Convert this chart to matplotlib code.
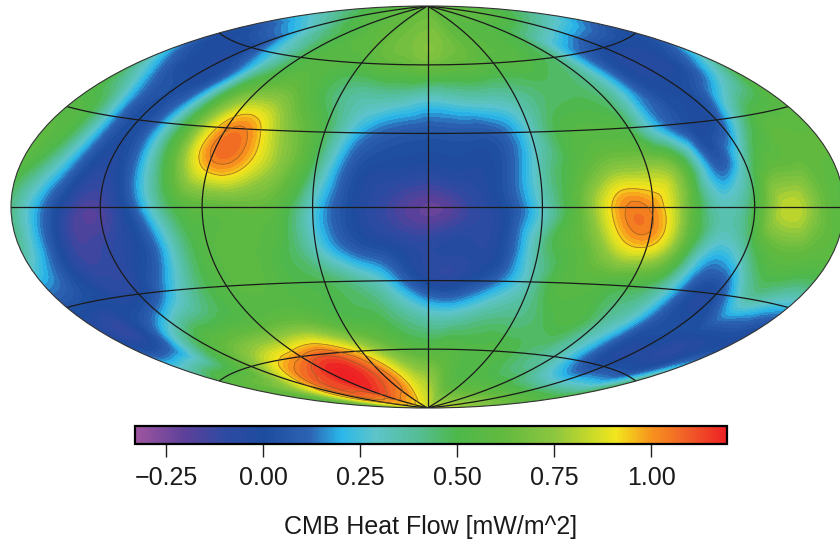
import numpy as np
import matplotlib
matplotlib.use("Agg")
import matplotlib.pyplot as plt
import matplotlib.tri as mtri
from matplotlib.colors import LinearSegmentedColormap, Normalize
from matplotlib.cm import ScalarMappable

plt.rcParams['font.family'] = ['Liberation Sans', 'DejaVu Sans']

lons_deg = list(range(-180, 181, 15))
lats_deg = [-90, -75, -60, -45, -30, -15, 0, 15, 30, 45, 60, 75, 90]

pole_north = 0.62
pole_south = 0.85
row_p75 = [.33,.33,.36,.40,.45,.50,.52,.56,.60,.62,.65,.68,.70,.68,.62,.58,.55,.55,.52,.50,.48,.45,.42,.40,.38]
row_p60 = [.02,-.02,.0,.02,.18,.33,.48,.55,.55,.55,.60,.62,.66,.62,.60,.55,.55,.50,.42,.20,.07,.0,.0,.0,.02]
row_p45 = [.42,.22,.05,.0,.08,.45,.66,.68,.55,.42,.36,.35,.30,.33,.35,.38,.45,.47,.42,.20,.0,-.02,.03,.20,.42]
row_p30 = [.55,.50,.20,.0,.22,.66,1.00,.95,.70,.48,.20,.08,.05,.06,.08,.30,.52,.55,.48,.18,.0,.05,.42,.55,.58]
row_p15 = [.58,.42,.12,-.05,.20,.63,.97,.93,.72,.42,.05,-.03,-.05,-.03,.03,.33,.55,.72,.75,.60,.10,.36,.60,.62,.60]
row_000 = [.42,.17,-.10,-.16,.08,.45,.60,.62,.58,.28,.0,-.13,-.22,-.13,.0,.30,.62,.97,1.00,.66,.33,.50,.83,.70,.55]
row_m15 = [.35,.10,-.13,-.10,.0,.32,.55,.58,.52,.30,.06,-.03,-.08,-.05,.0,.38,.58,.82,.93,.62,.25,.38,.60,.60,.58]
row_m30 = [.03,.0,-.04,-.03,.18,.42,.55,.58,.52,.48,.38,.20,-.03,-.03,.12,.35,.55,.55,.50,.38,.05,.02,.32,.30,.22]
row_m45 = [.03,-.03,.17,.42,.52,.55,.58,.62,.60,.52,.50,.42,.33,.33,.40,.42,.48,.52,.40,.25,.03,.0,-.03,-.03,.0]
row_m60 = [.50,.55,.55,.68,.84,.95,1.02,1.08,1.02,.88,.72,.60,.55,.55,.52,.52,.48,.42,.35,.20,.05,.02,.05,.12,.42]
row_m75 = [.62,.65,.85,.98,1.10,1.12,1.18,1.18,1.12,1.06,.96,.85,.78,.66,.56,.55,.55,.54,.54,.52,.52,.52,.54,.55,.55]

rows = [[pole_south] * 25, row_m75, row_m60, row_m45, row_m30, row_m15, row_000,
        row_p15, row_p30, row_p45, row_p60, row_p75, [pole_north] * 25]

cbar_ticks = [-0.25, 0.0, 0.25, 0.5, 0.75, 1.0]
cbar_tick_labels = ['\u22120.25', '0.00', '0.25', '0.50', '0.75', '1.00']
cbar_label = 'CMB Heat Flow [mW/m^2]'
vmin, vmax = -0.33, 1.195

nodes = [(-0.33, '#a0559f'), (-0.2, '#5b409a'), (-0.1, '#2f4aa3'), (0.0, '#1d4c9e'),
         (0.12, '#2d63b3'), (0.2, '#2ab7ea'), (0.29, '#5dc4c9'), (0.4, '#55bd95'),
         (0.5, '#4db84a'), (0.62, '#62b93f'), (0.75, '#8cc63f'), (0.84, '#c4d82a'),
         (0.91, '#f2e61d'), (1.0, '#f7941d'), (1.1, '#f05a28'), (1.195, '#ed2024')]
cmap = LinearSegmentedColormap.from_list(
    'heat', [((v - vmin) / (vmax - vmin), c) for v, c in nodes], N=512)
norm = Normalize(vmin, vmax)

fig = plt.figure(figsize=(8.4, 5.41), dpi=100)
W, H = 840, 541
left, right, top, bottom = 11.0, 844.0, 6.0, 408.0
ax = fig.add_axes([left / W, 1 - bottom / H, (right - left) / W, (bottom - top) / H],
                  projection='hammer')
ax.set_aspect('auto')

lon_g, lat_g = np.meshgrid(np.radians(lons_deg), np.radians(lats_deg))
z = np.array(rows, dtype=float)
tri = mtri.Triangulation(lon_g.ravel(), lat_g.ravel())
refiner = mtri.UniformTriRefiner(tri)
tri_f, z_f = refiner.refine_field(z.ravel(), subdiv=3)

levels = np.arange(vmin, vmax + 0.03, 0.03)
ax.tricontourf(tri_f, z_f, levels=levels, cmap=cmap, norm=norm, extend='both')
ax.tricontour(tri_f, z_f, levels=[0.93, 1.02, 1.1], colors='#8a5a20', linewidths=0.6, alpha=0.7)

ax.set_longitude_grid(45)
ax.set_latitude_grid(30)
ax.set_longitude_grid_ends(90)
ax.grid(True, color='#1a1a1a', linewidth=0.9, linestyle='-')
ax.set_xticklabels([])
ax.set_yticklabels([])
ax.spines['geo'].set_linewidth(0.8)
ax.spines['geo'].set_edgecolor('#333333')

cax = fig.add_axes([135 / W, 1 - 444 / H, (727 - 135) / W, 18 / H])
cb = fig.colorbar(ScalarMappable(norm=norm, cmap=cmap), cax=cax, orientation='horizontal')
cb.set_ticks(cbar_ticks, labels=cbar_tick_labels)
cb.ax.tick_params(length=9, width=1.0, labelsize=18, pad=6.5, color='#222222', labelcolor='#1a1a1a')
cb.outline.set_linewidth(1.6)
cb.set_label(cbar_label, fontsize=18, labelpad=18, color='#1a1a1a')

fig.savefig('out.png', dpi=100)
